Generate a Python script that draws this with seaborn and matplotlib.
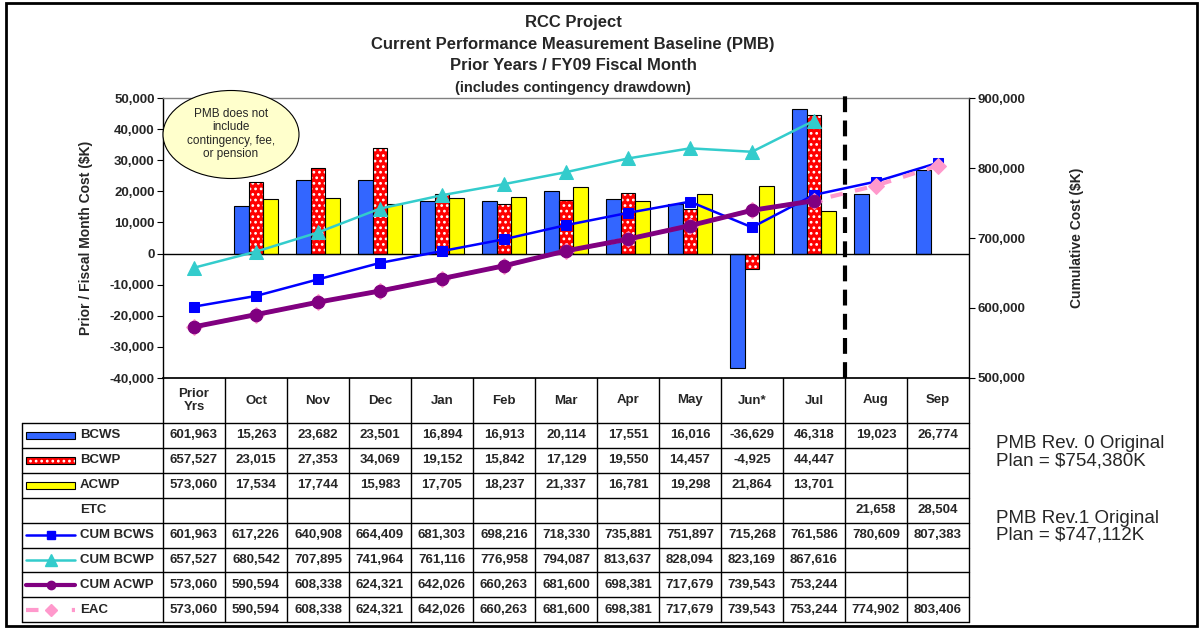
#!/usr/bin/env python3
# -*- coding:utf-8 -*-
"""
RCC Project - PMB chart with data table underneath.
Bars (monthly cost) on the left axis, cumulative lines on the right axis.
"""

import numpy as np
import pandas as pd
import matplotlib.pyplot as plt
import matplotlib.transforms as mtransforms
from matplotlib.patches import Rectangle, Ellipse
from matplotlib.lines import Line2D
import seaborn as sns

months = ["Prior\nYrs", "Oct", "Nov", "Dec", "Jan", "Feb", "Mar",
          "Apr", "May", "Jun*", "Jul", "Aug", "Sep"]
bcws = [601963, 15263, 23682, 23501, 16894, 16913, 20114, 17551, 16016, -36629, 46318, 19023, 26774]
bcwp = [657527, 23015, 27353, 34069, 19152, 15842, 17129, 19550, 14457, -4925, 44447, None, None]
acwp = [573060, 17534, 17744, 15983, 17705, 18237, 21337, 16781, 19298, 21864, 13701, None, None]
etc = [None] * 11 + [21658, 28504]
cum_bcws = [601963, 617226, 640908, 664409, 681303, 698216, 718330, 735881, 751897, 715268, 761586, 780609, 807383]
cum_bcwp = [657527, 680542, 707895, 741964, 761116, 776958, 794087, 813637, 828094, 823169, 867616, None, None]
cum_acwp = [573060, 590594, 608338, 624321, 642026, 660263, 681600, 698381, 717679, 739543, 753244, None, None]
eac = [573060, 590594, 608338, 624321, 642026, 660263, 681600, 698381, 717679, 739543, 753244, 774902, 803406]

title_lines = ["RCC Project",
               "Current Performance Measurement Baseline (PMB)",
               "Prior Years / FY09 Fiscal Month",
               "(includes contingency drawdown)"]
note_rev0 = "PMB Rev. 0 Original\nPlan = $754,380K"
note_rev1 = "PMB Rev.1 Original\nPlan = $747,112K"
callout = "PMB does not\ninclude\ncontingency, fee,\nor pension"

C_BCWS = "#3366FF"
C_BCWP = "#FF0000"
C_ACWP = "#FFFF00"
C_CBCWS = "#0000FF"
C_CBCWP = "#33CCCC"
C_CACWP = "#800080"
C_EAC = "#FF99CC"

sns.set_theme(style="white")
plt.rcParams['font.family'] = ['Liberation Sans', 'DejaVu Sans']
plt.rcParams['hatch.linewidth'] = 1.2

W, H = 1203, 629
fig = plt.figure(figsize=(W / 100, H / 100), dpi=100)
fig.patch.set_facecolor("white")

# plot area in pixels: x 163..969, y 98..378
ax = fig.add_axes([163 / W, 1 - 378 / H, 806 / W, 280 / H])

# ---- monthly bars (Prior Yrs not drawn, off the scale) ----
rows = []
for i, m in enumerate(months):
    if i == 0:
        continue
    for name, vals in (("BCWS", bcws), ("BCWP", bcwp), ("ACWP", acwp)):
        if vals[i] is not None:
            rows.append({"month": m, "series": name, "value": vals[i]})
bars = pd.DataFrame(rows)

sns.barplot(data=bars, x="month", y="value", hue="series", order=months,
            hue_order=["BCWS", "BCWP", "ACWP"],
            palette=[C_BCWS, C_BCWP, C_ACWP], width=0.72, dodge=True,
            edgecolor="black", linewidth=0.8, saturation=1, legend=False, ax=ax)

# BCWP bars: red with white dots, black outline on top
for p in ax.containers[1]:
    p.set_edgecolor("white")
    p.set_hatch("...")
    p.set_linewidth(0)
    ax.add_patch(Rectangle(p.get_xy(), p.get_width(), p.get_height(),
                           fill=False, edgecolor="black", linewidth=0.8, zorder=p.get_zorder() + 0.1))

ax.set_xlim(-0.5, len(months) - 0.5)
ax.set_ylim(-40000, 50000)
ax.set_yticks(np.arange(-40000, 50001, 10000))
ax.set_yticklabels([f"{int(v):,}" for v in ax.get_yticks()], fontsize=9.5, fontweight="bold")
ax.tick_params(axis="y", direction="out", length=4, width=0.8, color="black", pad=2, left=True)
ax.set_xticks([])
ax.set_xlabel("")
ax.set_ylabel("Prior / Fiscal Month Cost ($K)", fontsize=10, fontweight="bold", labelpad=12)
ax.axhline(0, color="black", linewidth=1.0, zorder=1)
ax.axvline(10.5, ymin=0, ymax=1.012, color="black", linewidth=3, dashes=(3.8, 2), clip_on=False, zorder=6)
for s in ("left", "right"):
    ax.spines[s].set_color("black")
    ax.spines[s].set_linewidth(1.0)
ax.spines["top"].set_color("#808080")
ax.spines["top"].set_linewidth(1.0)
ax.spines["bottom"].set_color("black")

# ---- cumulative lines on the right axis ----
ax2 = ax.twinx()
x = np.arange(len(months))
sns.lineplot(x=x, y=cum_bcws, ax=ax2, color=C_CBCWS, linewidth=1.8,
             marker="s", markersize=7, markeredgecolor=C_CBCWS)
sns.lineplot(x=x, y=eac, ax=ax2, color=C_EAC, linewidth=3, dashes=(3, 3),
             marker="D", markersize=8, markeredgecolor=C_EAC)
sns.lineplot(x=x, y=cum_acwp, ax=ax2, color=C_CACWP, linewidth=3.5,
             marker="o", markersize=9, markeredgecolor=C_CACWP)
sns.lineplot(x=x, y=cum_bcwp, ax=ax2, color=C_CBCWP, linewidth=1.8,
             marker="^", markersize=10, markeredgecolor=C_CBCWP)
ax2.set_ylim(500000, 900000)
ax2.set_yticks(np.arange(500000, 900001, 100000))
ax2.set_yticklabels([f"{int(v):,}" for v in ax2.get_yticks()], fontsize=9.5, fontweight="bold")
ax2.tick_params(axis="y", direction="out", length=4, width=0.8, color="black", pad=2, right=True)
ax2.set_ylabel("Cumulative Cost ($K)", fontsize=10, fontweight="bold", labelpad=32)
ax2.grid(False)
ax.grid(False)
for s in ax2.spines.values():
    s.set_visible(False)

# ---- titles ----
for k, line in enumerate(title_lines):
    fig.text(573 / W, 1 - (22 + 22 * k) / H, line, ha="center", va="center",
             fontsize=12 if k < 3 else 10.5, fontweight="bold")

# ---- callout ellipse ----
fig.patches.append(Ellipse((231 / W, 1 - 134.5 / H), 136 / W, 88 / H,
                           transform=fig.transFigure, facecolor="#FFFFCC",
                           edgecolor="black", linewidth=0.8, zorder=10))
fig.text(231 / W, 1 - 134 / H, callout, ha="center", va="center",
         fontsize=8.5, linespacing=1.15, zorder=11)

# ---- data table ----
tr = mtransforms.blended_transform_factory(ax.transData, fig.transFigure)
fy = lambda py: 1 - py / H
row_edges = [378, 423] + [423 + 24.9 * (k + 1) for k in range(8)]
n = len(months)
lw = 1.0

# header row
for i, m in enumerate(months):
    fig.text(i, fy((row_edges[0] + row_edges[1]) / 2), m, transform=tr,
             ha="center", va="center", fontsize=9.5, fontweight="bold", linespacing=1.2)
for i in range(n + 1):
    fig.add_artist(Line2D([i - 0.5, i - 0.5], [fy(378), fy(row_edges[-1])],
                          transform=tr, color="black", linewidth=lw))
fig.add_artist(Line2D([22 / W, 22 / W], [fy(423), fy(row_edges[-1])],
                      transform=fig.transFigure, color="black", linewidth=lw))
for py in row_edges[1:]:
    fig.add_artist(Line2D([22 / W, 969 / W], [fy(py), fy(py)],
                          transform=fig.transFigure, color="black", linewidth=lw))

table_rows = [("BCWS", bcws), ("BCWP", bcwp), ("ACWP", acwp), ("ETC", etc),
              ("CUM BCWS", cum_bcws), ("CUM BCWP", cum_bcwp),
              ("CUM ACWP", cum_acwp), ("EAC", eac)]
for r, (name, vals) in enumerate(table_rows):
    yc = fy((row_edges[r + 1] + row_edges[r + 2]) / 2)
    fig.text(80 / W, yc, name, ha="left", va="center", fontsize=9.5, fontweight="bold")
    for i, v in enumerate(vals):
        if v is not None:
            fig.text(i, yc, f"{v:,}", transform=tr, ha="center", va="center",
                     fontsize=9.5, fontweight="bold")

    # legend keys in the label column
    x0, x1 = 26 / W, 75 / W
    hh = 7 / H
    if name in ("BCWS", "BCWP", "ACWP"):
        col = {"BCWS": C_BCWS, "BCWP": C_BCWP, "ACWP": C_ACWP}[name]
        if name == "BCWP":
            fig.patches.append(Rectangle((x0, yc - hh / 2), x1 - x0, hh, transform=fig.transFigure,
                                         facecolor=col, edgecolor="white", hatch="...", linewidth=0))
            fig.patches.append(Rectangle((x0, yc - hh / 2), x1 - x0, hh, transform=fig.transFigure,
                                         fill=False, edgecolor="black", linewidth=0.8))
        else:
            fig.patches.append(Rectangle((x0, yc - hh / 2), x1 - x0, hh, transform=fig.transFigure,
                                         facecolor=col, edgecolor="black", linewidth=0.8))
    elif name == "CUM BCWS":
        fig.add_artist(Line2D([x0, x1], [yc, yc], color=C_CBCWS, linewidth=1.8))
        fig.add_artist(Line2D([(x0 + x1) / 2], [yc], color=C_CBCWS, marker="s", markersize=6))
    elif name == "CUM BCWP":
        fig.add_artist(Line2D([x0, x1], [yc, yc], color=C_CBCWP, linewidth=1.8))
        fig.add_artist(Line2D([(x0 + x1) / 2], [yc], color=C_CBCWP, marker="^", markersize=8))
    elif name == "CUM ACWP":
        fig.add_artist(Line2D([x0, x1], [yc, yc], color=C_CACWP, linewidth=3))
        fig.add_artist(Line2D([(x0 + x1) / 2], [yc], color=C_CACWP, marker="o", markersize=6))
    elif name == "EAC":
        fig.add_artist(Line2D([x0, x1], [yc, yc], color=C_EAC, linewidth=3, dashes=(3, 8)))
        fig.add_artist(Line2D([(x0 + x1) / 2], [yc], color=C_EAC, marker="D", markersize=6))

# ---- side notes ----
fig.text(996 / W, fy(452), note_rev0, ha="left", va="center", fontsize=13.5, linespacing=1.0)
fig.text(996 / W, fy(527), note_rev1, ha="left", va="center", fontsize=13.5, linespacing=1.0)

# ---- outer frame ----
fig.patches.append(Rectangle((6 / W, 3 / H), 1191 / W, 623 / H, transform=fig.transFigure,
                             fill=False, edgecolor="black", linewidth=2))

fig.savefig("out.png", dpi=100)
plt.close(fig)
